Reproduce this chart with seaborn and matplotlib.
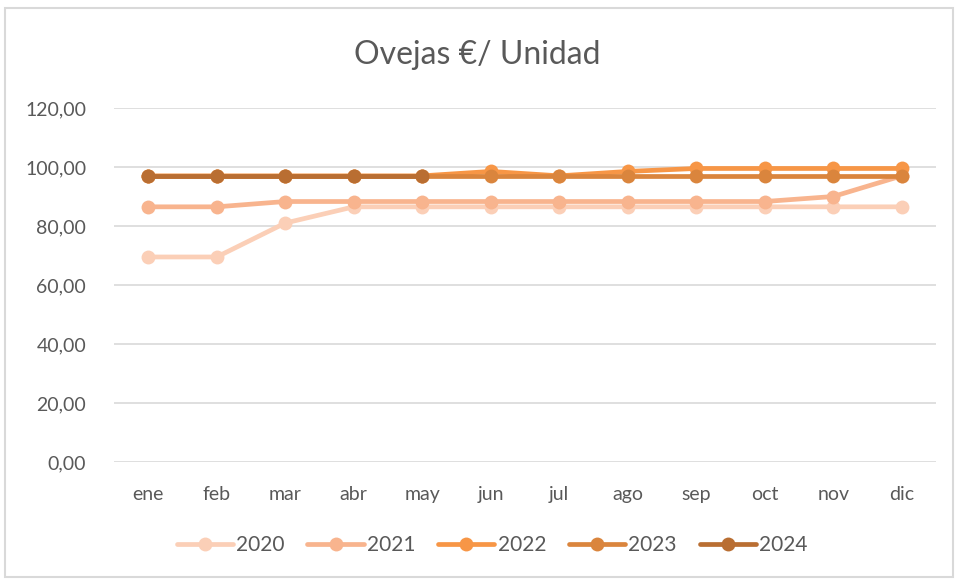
import matplotlib.pyplot as plt
import matplotlib.ticker as mticker
from matplotlib.patches import Rectangle
import seaborn as sns
import pandas as pd
import numpy as np

meses = ["ene", "feb", "mar", "abr", "may", "jun", "jul", "ago", "sep", "oct", "nov", "dic"]
years = ["2020", "2021", "2022", "2023", "2024"]
v2020 = [69.5, 69.5, 81.0, 86.5, 86.5, 86.5, 86.5, 86.5, 86.5, 86.5, 86.5, 86.5]
v2021 = [86.5, 86.5, 88.3, 88.3, 88.3, 88.3, 88.3, 88.3, 88.3, 88.3, 90.0, 97.0]
v2022 = [97.0, 97.0, 97.0, 97.0, 97.0, 98.5, 97.0, 98.5, 99.5, 99.5, 99.5, 99.5]
v2023 = [97.0, 97.0, 97.0, 97.0, 97.0, 97.0, 97.0, 97.0, 97.0, 97.0, 97.0, 97.0]
v2024 = [97.0, 97.0, 97.0, 97.0, 97.0, np.nan, np.nan, np.nan, np.nan, np.nan, np.nan, np.nan]
colores = ["#FBCFB7", "#F8B48E", "#F79646", "#DA853D", "#B96E32"]

rows = []
for y, vals in zip(years, [v2020, v2021, v2022, v2023, v2024]):
    for i, v in enumerate(vals):
        rows.append({"mes": i, "year": y, "valor": v})
df = pd.DataFrame(rows)

sns.set_style("white")
plt.rcParams["font.family"] = ["Lato", "DejaVu Sans"]
gris = "#595959"

fig = plt.figure(figsize=(9.55, 5.79), dpi=100)
ax = fig.add_axes([114 / 955, 1 - 462 / 579, (936 - 114) / 955, (462 - 108) / 579])

for y, c in zip(years, colores):
    d = df[df["year"] == y].dropna()
    sns.lineplot(data=d, x="mes", y="valor", color=c, linewidth=3.4, marker="o",
                 markersize=10, markeredgewidth=0, ax=ax, label=y, sort=False)

ax.set_xlim(-0.5, 11.5)
ax.set_ylim(0, 120)
ax.set_yticks(range(0, 121, 20))
ax.yaxis.set_major_formatter(mticker.FuncFormatter(lambda v, p: f"{v:.2f}".replace(".", ",")))
ax.set_xticks(range(12))
ax.set_xticklabels(meses)
ax.tick_params(axis="both", length=0, labelsize=14, colors=gris)
ax.tick_params(axis="x", pad=17)
ax.tick_params(axis="y", pad=20)
ax.grid(axis="y", color="#D9D9D9", linewidth=1.2)
ax.set_axisbelow(True)
for s in ax.spines.values():
    s.set_visible(False)
ax.set_xlabel("")
ax.set_ylabel("")

fig.text(0.5, 1 - 55 / 579, "Ovejas €/ Unidad", ha="center", va="center", fontsize=23, color=gris)

h, l = ax.get_legend_handles_labels()
ax.legend(h, l, loc="center", bbox_to_anchor=(0.46, (462 - 545) / 354), ncol=5, frameon=False,
          fontsize=15, labelcolor=gris, handlelength=2.7, handletextpad=0.15, columnspacing=1.1)

fig.patches.append(Rectangle((5 / 955, 2 / 579), 948 / 955, 569 / 579, transform=fig.transFigure,
                             fill=False, edgecolor="#D9D9D9", linewidth=1.5))

fig.savefig("out.png", dpi=100)
